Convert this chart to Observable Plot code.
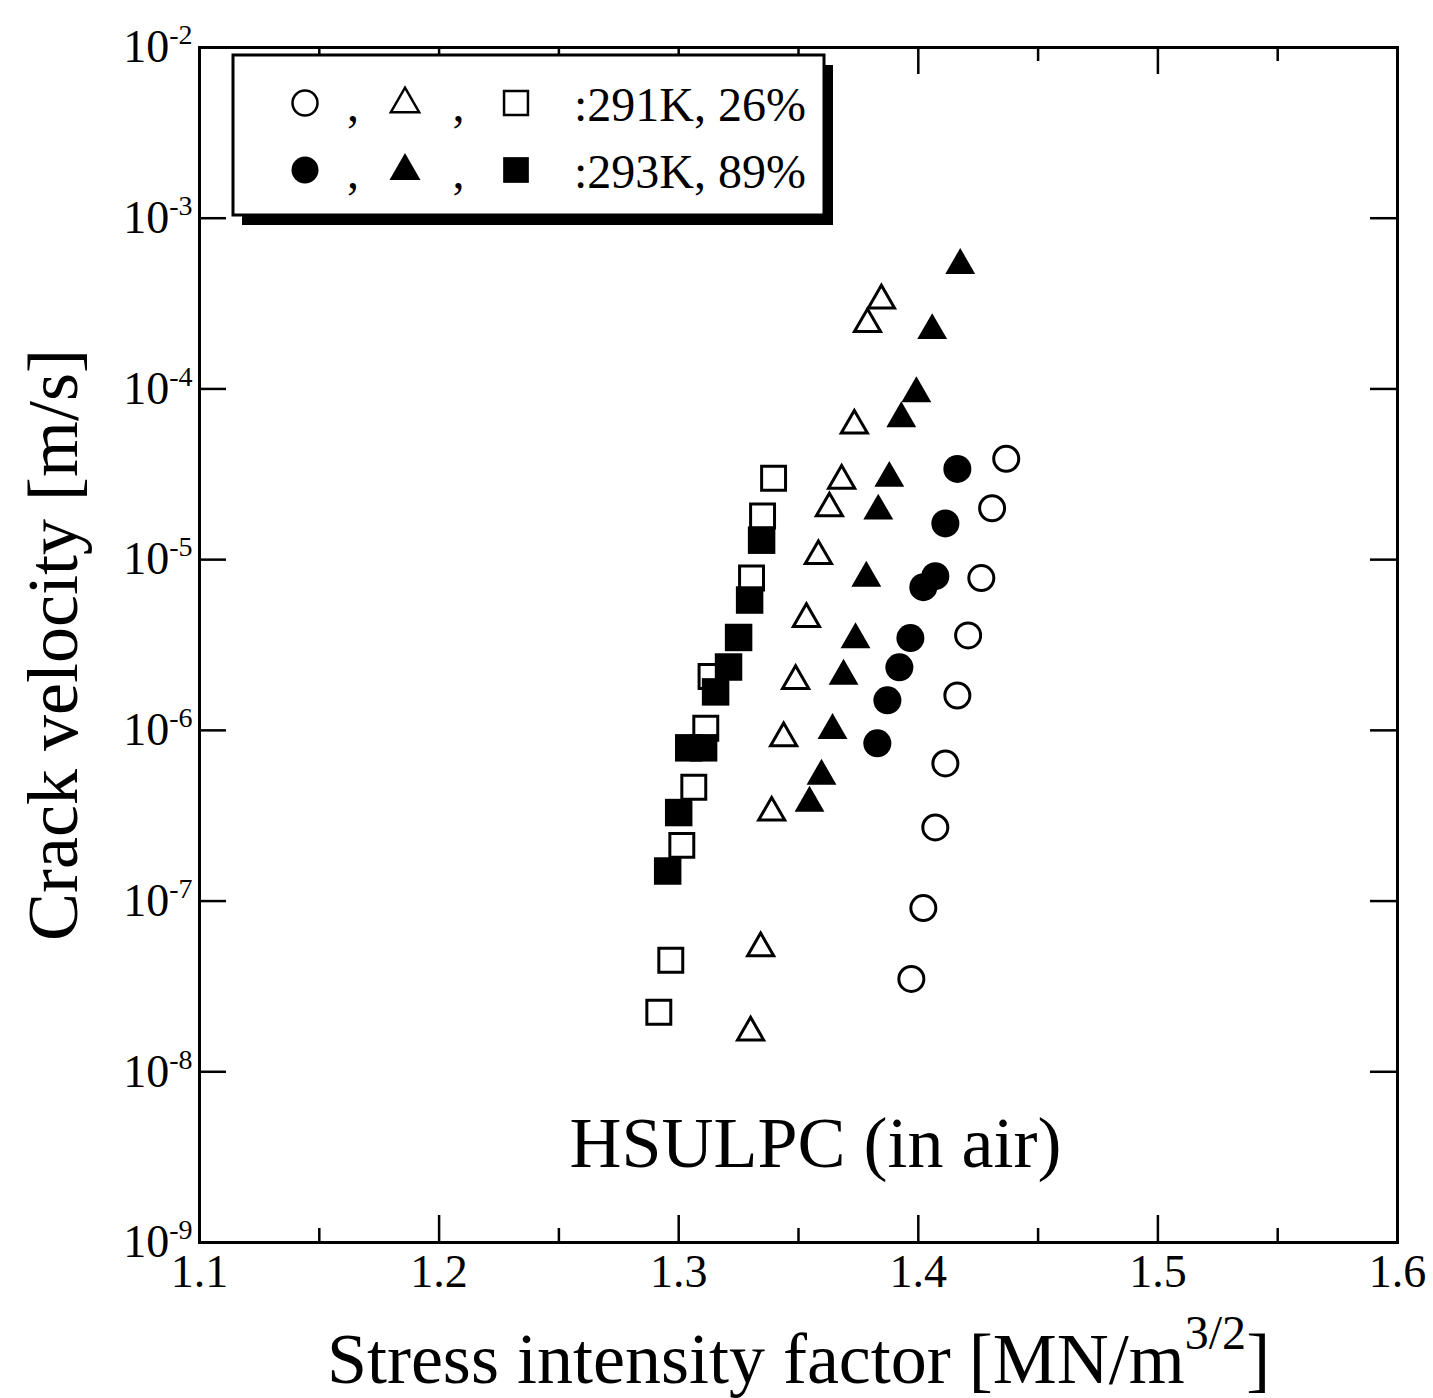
<!DOCTYPE html>
<html>
<head>
<meta charset="utf-8">
<script src="https://cdn.jsdelivr.net/npm/d3@7"></script>
<script src="https://cdn.jsdelivr.net/npm/@observablehq/plot@0.6"></script>
<style>
  html, body { margin: 0; padding: 0; background: #fff; }
  #chart { width: 1433px; height: 1398px; }
</style>
</head>
<body>
<div id="chart"></div>
<script>
// Crack velocity v (m/s) versus stress intensity factor K (MN/m^3/2), HSULPC in air.
// Open symbols: 291 K, 26 % RH.  Filled symbols: 293 K, 89 % RH.

const openCircleK   = [1.4367, 1.4308, 1.4263, 1.4208, 1.4163, 1.4113, 1.4071, 1.4021, 1.3971];
const openCircleV   = [3.9e-5, 2.0e-5, 7.8e-6, 3.6e-6, 1.6e-6, 6.4e-7, 2.7e-7, 9.1e-8, 3.5e-8];

const filledCircleK = [1.4163, 1.4113, 1.4071, 1.4021, 1.3967, 1.3921, 1.3871, 1.3829];
const filledCircleV = [3.4e-5, 1.63e-5, 8.0e-6, 6.9e-6, 3.47e-6, 2.34e-6, 1.5e-6, 8.4e-7];

const openTriangleK   = [1.3846, 1.3788, 1.3733, 1.3680, 1.3629, 1.3583, 1.3533, 1.3488, 1.3438, 1.3388, 1.3342, 1.3300];
const openTriangleV   = [3.3e-4, 2.4e-4, 6.1e-5, 2.9e-5, 2.0e-5, 1.05e-5, 4.5e-6, 1.95e-6, 9.0e-7, 3.3e-7, 5.3e-8, 1.7e-8];

const filledTriangleK = [1.4175, 1.4058, 1.3992, 1.3929, 1.3879, 1.3833, 1.3783, 1.3738, 1.3688, 1.3642, 1.3596, 1.3546];
const filledTriangleV = [5.3e-4, 2.2e-4, 9.4e-5, 6.7e-5, 3.0e-5, 1.93e-5, 7.8e-6, 3.4e-6, 2.08e-6, 1.0e-6, 5.4e-7, 3.75e-7];

const openSquareK   = [1.3396, 1.3350, 1.3304, 1.3135, 1.3113, 1.3063, 1.3013, 1.2967, 1.2917];
const openSquareV   = [3.0e-5, 1.8e-5, 7.8e-6, 2.07e-6, 1.03e-6, 4.64e-7, 2.12e-7, 4.5e-8, 2.23e-8];

const filledSquareK = [1.3346, 1.3296, 1.3250, 1.3208, 1.3154, 1.3104, 1.3042, 1.3000, 1.2954];
const filledSquareV = [1.3e-5, 5.8e-6, 3.5e-6, 2.35e-6, 1.68e-6, 7.9e-7, 7.9e-7, 3.3e-7, 1.5e-7];

// axis ticks and texts
const xMajorTicks = [1.1, 1.2, 1.3, 1.4, 1.5, 1.6];
const xMinorTicks = [1.15, 1.25, 1.35, 1.45, 1.55];
const yTicks = [1e-9, 1e-8, 1e-7, 1e-6, 1e-5, 1e-4, 1e-3, 1e-2];
const xTitle = ["Stress intensity factor [MN/m", "3/2", "]"];
const yTitle = "Crack velocity [m/s]";
const note = "HSULPC (in air)";
const legendRows = [":291K, 26%", ":293K, 89%"];
const legendSymbols = ["circle", "triangle", "square"];

const toRows = (K, V) => K.map((k, i) => ({K: k, V: V[i]}));

const W = 1433, H = 1398;
const mL = 199, mR = 36, mT = 47, mB = 156;
const innerW = W - mL - mR, innerH = H - mT - mB;
const major = 27, minor = 14;
const font = "'Liberation Serif', 'Times New Roman', serif";

const openStyle = {x: "K", y: "V", fill: "none", stroke: "black", strokeWidth: 3};
const filledStyle = {x: "K", y: "V", fill: "black", stroke: "none"};

const svg = Plot.plot({
  width: W,
  height: H,
  marginLeft: mL,
  marginRight: mR,
  marginTop: mT,
  marginBottom: mB,
  style: {fontFamily: font, background: "white", color: "black"},
  x: {domain: [1.1, 1.6]},
  y: {type: "log", domain: [1e-9, 1e-2]},
  marks: [
    // inward ticks on all four sides
    Plot.tickX(xMajorTicks, {x: d => d, insetTop: innerH - major, strokeWidth: 2.5}),
    Plot.tickX(xMinorTicks, {x: d => d, insetTop: innerH - minor, strokeWidth: 2.5}),
    Plot.tickX(xMajorTicks, {x: d => d, insetBottom: innerH - major, strokeWidth: 2.5}),
    Plot.tickX(xMinorTicks, {x: d => d, insetBottom: innerH - minor, strokeWidth: 2.5}),
    Plot.tickY(yTicks, {y: d => d, insetRight: innerW - major, strokeWidth: 2.5}),
    Plot.tickY(yTicks, {y: d => d, insetLeft: innerW - major, strokeWidth: 2.5}),
    Plot.frame({stroke: "black", strokeWidth: 3}),
    Plot.axisX({ticks: xMajorTicks, tickSize: 0, tickPadding: 12, fontSize: 46,
                tickFormat: d3.format(".1f"), label: null}),
    Plot.axisY({ticks: yTicks, tickSize: 0, tickPadding: 7, fontSize: 46,
                tickFormat: d => `10^${Math.round(Math.log10(d))}`, label: null}),

    // open symbols
    Plot.dot(toRows(openCircleK, openCircleV), {...openStyle, symbol: "circle", r: 12.5}),
    Plot.dot(toRows(openTriangleK, openTriangleV), {...openStyle, symbol: "triangle", r: 9.7}),
    Plot.dot(toRows(openSquareK, openSquareV), {...openStyle, symbol: "square", r: 13.5}),
    // filled symbols
    Plot.dot(toRows(filledCircleK, filledCircleV), {...filledStyle, symbol: "circle", r: 14}),
    Plot.dot(toRows(filledTriangleK, filledTriangleV), {...filledStyle, symbol: "triangle", r: 11.1}),
    Plot.dot(toRows(filledSquareK, filledSquareV), {...filledStyle, symbol: "square", r: 15.5}),

    // annotation and axis titles
    Plot.text([note], {text: d => d, frameAnchor: "bottom", dx: 17, dy: -99,
                       fontSize: 72, textAnchor: "middle", lineAnchor: "middle"}),
    Plot.text([xTitle.join("")], {text: d => d, frameAnchor: "bottom", dy: 117,
                       fontSize: 72, textAnchor: "middle", lineAnchor: "middle",
                       ariaDescription: "x-title"}),
    Plot.text([yTitle], {text: d => d, frameAnchor: "left", rotate: -90, dx: -146,
                       fontSize: 72, textAnchor: "middle", lineAnchor: "middle"})
  ]
});

const NS = "http://www.w3.org/2000/svg";
function tspan(text, attrs = {}) {
  const t = document.createElementNS(NS, "tspan");
  t.textContent = text;
  for (const [k, v] of Object.entries(attrs)) t.setAttribute(k, v);
  return t;
}

// decade labels: 10 with a raised exponent
svg.querySelectorAll('g[aria-label="y-axis tick label"] text').forEach(el => {
  const [base, exp] = el.textContent.split("^");
  el.textContent = "";
  el.append(tspan(base), tspan(exp, {"font-size": 28, dy: -18}));
});

// x-axis title with the raised 3/2 power
const xt = svg.querySelector('g[aria-description="x-title"] text');
if (xt) {
  xt.textContent = "";
  xt.append(tspan(xTitle[0]), tspan(xTitle[1], {"font-size": 48, dy: -34}), tspan(xTitle[2], {dy: 34}));
}

// boxed legend with a drop shadow
const lg = d3.select(svg).append("g")
  .attr("font-family", font).attr("font-size", 48).attr("fill", "black")
  .attr("text-anchor", "start");
const box = {x: 233, y: 55, w: 591, h: 160};
lg.append("rect").attr("x", box.x + 9).attr("y", box.y + 10)
  .attr("width", box.w).attr("height", box.h).attr("fill", "black");
lg.append("rect").attr("x", box.x).attr("y", box.y)
  .attr("width", box.w).attr("height", box.h)
  .attr("fill", "white").attr("stroke", "black").attr("stroke-width", 3);

const symbolTypes = {circle: d3.symbolCircle, triangle: d3.symbolTriangle, square: d3.symbolSquare};
const symbolR = {circle: 12.5, triangle: 10.5, square: 13.5};
const symX = [305, 405, 516];
const rowY = [103, 170];
legendRows.forEach((label, row) => {
  const filled = row === 1;
  const cy = rowY[row];
  legendSymbols.forEach((s, i) => {
    const r = symbolR[s] + (filled ? 1 : 0);
    lg.append("path")
      .attr("transform", `translate(${symX[i]},${cy + (s === "triangle" ? 1 : 0)})`)
      .attr("d", d3.symbol(symbolTypes[s], Math.PI * r * r)())
      .attr("fill", filled ? "black" : "none")
      .attr("stroke", filled ? "none" : "black")
      .attr("stroke-width", 2.5);
    if (i < legendSymbols.length - 1) {
      lg.append("text").attr("x", (symX[i] + symX[i + 1]) / 2 - 2).attr("y", cy + 18)
        .attr("text-anchor", "middle").text(",");
    }
  });
  lg.append("text").attr("x", 574).attr("y", cy + 18).text(label);
});

document.getElementById("chart").append(svg);
</script>
</body>
</html>
